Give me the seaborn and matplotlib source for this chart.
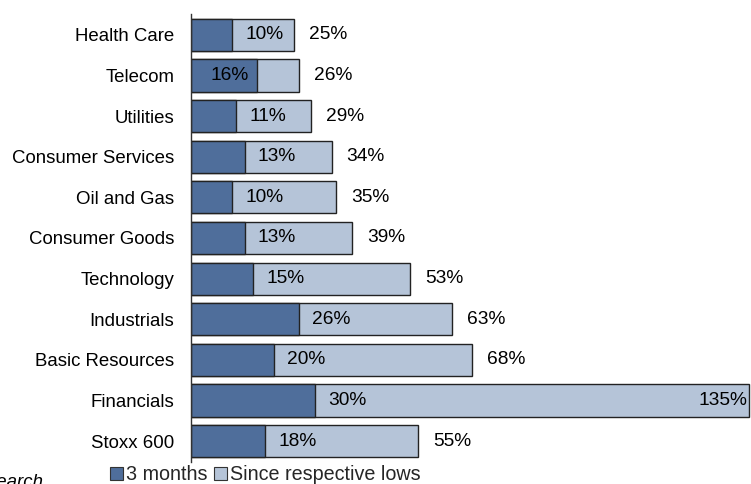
import matplotlib
matplotlib.use("Agg")
import matplotlib.pyplot as plt
import seaborn as sns
import pandas as pd
import numpy as np
from matplotlib.patches import Patch

categories = ["Health Care", "Telecom", "Utilities", "Consumer Services", "Oil and Gas",
              "Consumer Goods", "Technology", "Industrials", "Basic Resources",
              "Financials", "Stoxx 600"]
three_months = [10, 16, 11, 13, 10, 13, 15, 26, 20, 30, 18]
since_lows = [25, 26, 29, 34, 35, 39, 53, 63, 68, 135, 55]

DARK = "#4F6E9B"
LIGHT = "#B5C4D8"
FS = 13.4
FS_VAL = 13.8
FS_LEG = 14.2

sns.set_theme(style="white")
plt.rcParams["font.family"] = ["Liberation Sans", "DejaVu Sans"]

df = pd.DataFrame({"cat": categories, "m3": three_months, "lows": since_lows})

fig = plt.figure(figsize=(7.51, 4.84), dpi=100)
W, H = 751, 484
ax = fig.add_axes([191 / W, 1 - 461.5 / H, (751 - 191) / W, (461.5 - 14.5) / H])

sns.barplot(data=df, y="cat", x="lows", orient="h", color=LIGHT, width=0.79,
            edgecolor="#222222", linewidth=1.0, saturation=1, ax=ax)
sns.barplot(data=df, y="cat", x="m3", orient="h", color=DARK, width=0.79,
            edgecolor="#222222", linewidth=1.0, saturation=1, ax=ax)

ax.set_xlim(0, 135.4)
ax.set_ylim(len(categories) - 0.5, -0.5)
ax.set_xlabel("")
ax.set_ylabel("")
ax.set_xticks([])
ax.tick_params(axis="y", which="major", length=0, labelsize=FS, pad=12, colors="black")
ax.set_yticks(np.arange(-0.5, len(categories), 1), minor=True)
ax.tick_params(axis="y", which="minor", length=5, width=1, color="#555555", direction="out")
for s in ["top", "right", "bottom"]:
    ax.spines[s].set_visible(False)
ax.spines["left"].set_color("#333333")
ax.spines["left"].set_linewidth(1)

px = 135.4 / (751 - 191)  # data units per pixel
for i, (m, t) in enumerate(zip(three_months, since_lows)):
    if (t - m) / px < 50:
        ax.text(m - 8 * px, i, f"{m}%", ha="right", va="center", fontsize=FS_VAL, color="black")
    else:
        ax.text(m + 13 * px, i, f"{m}%", ha="left", va="center", fontsize=FS_VAL, color="black")
    if t >= 130:
        ax.text(t - 2 * px, i, f"{t}%", ha="right", va="center", fontsize=FS_VAL, color="black")
    else:
        ax.text(t + 15 * px, i, f"{t}%", ha="left", va="center", fontsize=FS_VAL, color="black")

handles = [Patch(facecolor=DARK, edgecolor="#333333", linewidth=0.8, label="3 months"),
           Patch(facecolor=LIGHT, edgecolor="#333333", linewidth=0.8, label="Since respective lows")]
fig.legend(handles=handles, loc="center left", bbox_to_anchor=(110 / W, 1 - 475 / H),
           ncol=2, frameon=False, fontsize=FS_LEG, handlelength=0.65, handleheight=0.65,
           handletextpad=0.15, columnspacing=0.35, borderpad=0, borderaxespad=0)

fig.text(43 / W, 1 - 487 / H, "Research", ha="right", va="baseline", fontsize=FS,
         style="italic", color="black")

fig.savefig("out.png", dpi=100)
